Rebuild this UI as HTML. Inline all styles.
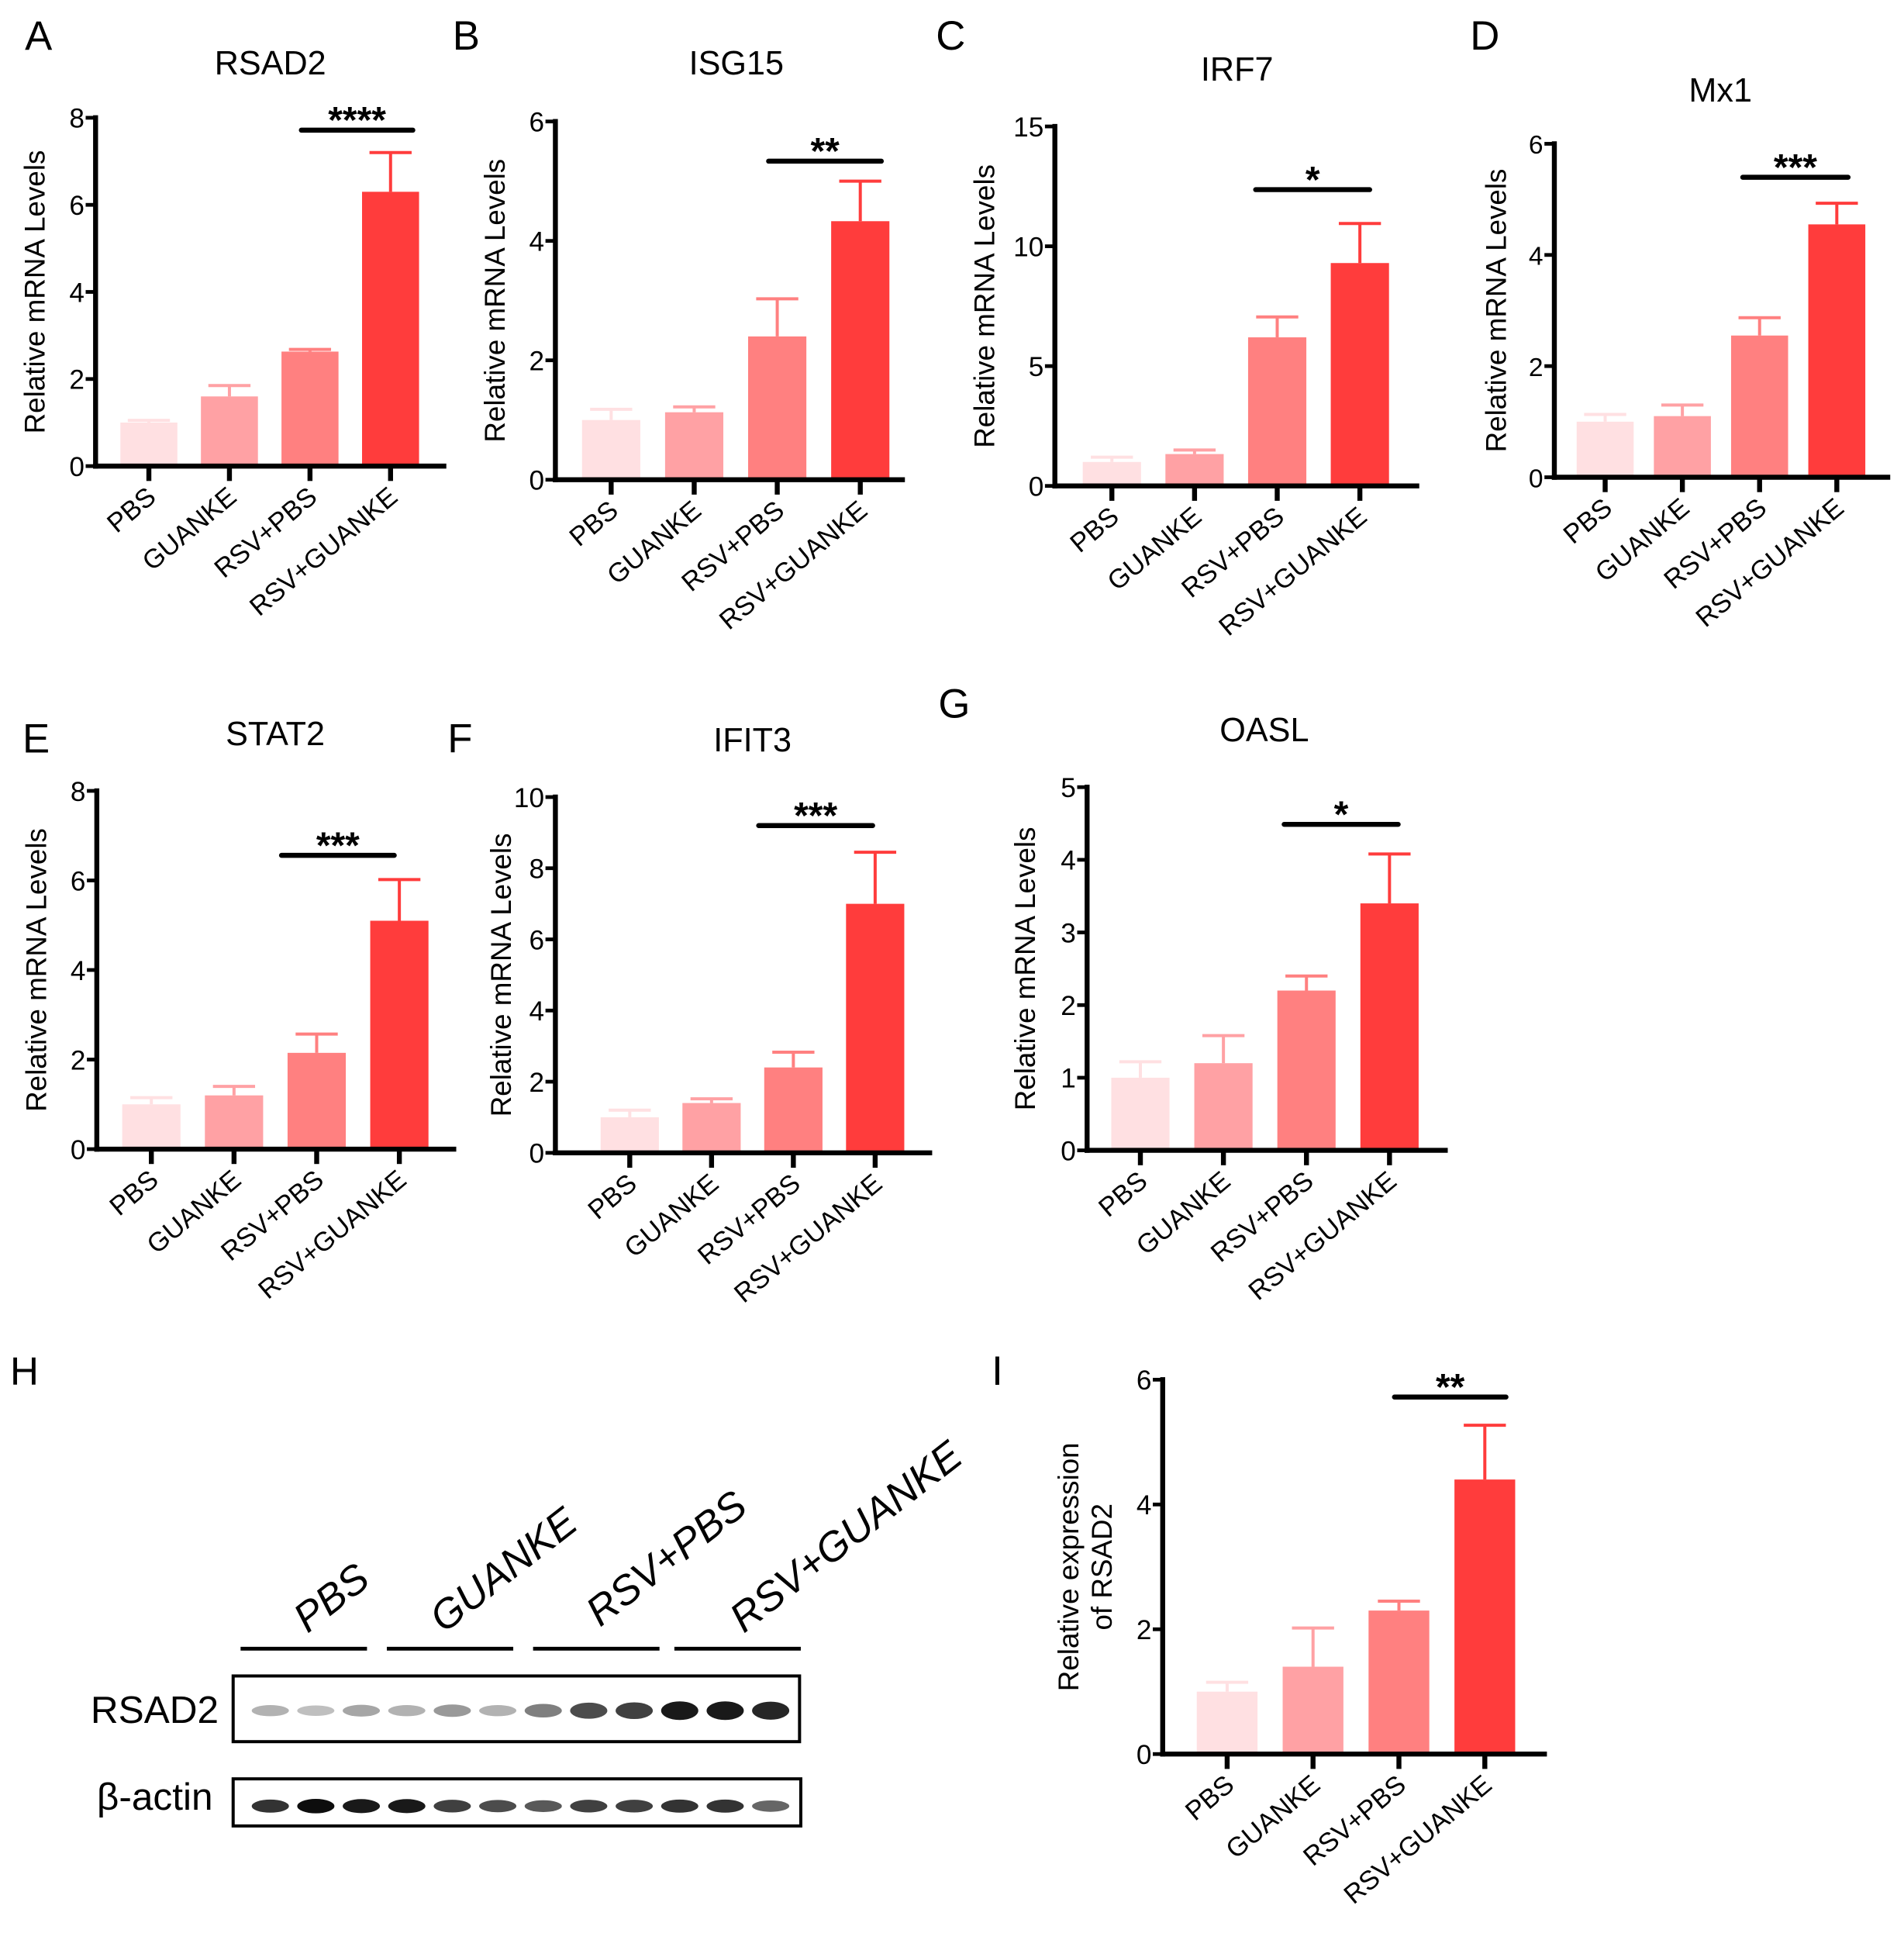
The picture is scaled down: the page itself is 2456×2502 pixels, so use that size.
<!DOCTYPE html>
<html><head><meta charset="utf-8"><style>
html,body{margin:0;padding:0;background:#fff}
svg{display:block}
text{font-family:"Liberation Sans",Arial,sans-serif;fill:#000}
</style></head><body>
<svg id="fig" width="2456" height="2502" viewBox="0 0 1536 1565" xmlns="http://www.w3.org/2000/svg">
<rect width="1536" height="1565" fill="#fff"/>
<g id="charts"></g>
<g id="blot">
  <text x="8" y="1117" font-size="32">H</text>
  <g font-style="italic" font-size="33">
    <text transform="translate(248,1318) rotate(-38)">PBS</text>
    <text transform="translate(358,1318) rotate(-38)">GUANKE</text>
    <text transform="translate(484,1313) rotate(-38)">RSV+PBS</text>
    <text transform="translate(600,1318) rotate(-38)">RSV+GUANKE</text>
  </g>
  <g stroke="#000" stroke-width="3">
    <line x1="194" y1="1330" x2="296" y2="1330"/>
    <line x1="312" y1="1330" x2="414" y2="1330"/>
    <line x1="430" y1="1330" x2="532" y2="1330"/>
    <line x1="544" y1="1330" x2="646" y2="1330"/>
  </g>
  <text x="73" y="1390" font-size="31">RSAD2</text>
  <text x="78" y="1460" font-size="31">β-actin</text>
  <g id="bands"></g>
  <rect x="188" y="1352" width="457" height="53" fill="none" stroke="#000" stroke-width="2.5"/>
  <rect x="188" y="1435" width="458" height="38" fill="none" stroke="#000" stroke-width="2.5"/>
</g>
</svg>
<script>
const categories = ["PBS","GUANKE","RSV+PBS","RSV+GUANKE"];
const colors = ["#FFE0E2","#FFA1A4","#FF8080","#FF3C3C"];
const rsad2Means = [1.0,1.6,2.63,6.3];   const rsad2Err = [1.05,1.85,2.68,7.2];   const rsad2Ticks = [0,2,4,6,8];
const isg15Means = [1.0,1.13,2.4,4.33];  const isg15Err = [1.18,1.22,3.03,5.0];   const isg15Ticks = [0,2,4,6];
const irf7Means = [1.0,1.33,6.2,9.3];    const irf7Err = [1.2,1.5,7.05,10.95];    const irf7Ticks = [0,5,10,15];
const mx1Means = [1.0,1.1,2.55,4.55];    const mx1Err = [1.13,1.3,2.87,4.93];     const mx1Ticks = [0,2,4,6];
const stat2Means = [1.0,1.2,2.15,5.1];   const stat2Err = [1.15,1.4,2.57,6.02];   const stat2Ticks = [0,2,4,6,8];
const ifit3Means = [1.0,1.4,2.4,7.0];    const ifit3Err = [1.2,1.52,2.83,8.45];   const ifit3Ticks = [0,2,4,6,8,10];
const oaslMeans = [1.0,1.2,2.2,3.4];     const oaslErr = [1.22,1.58,2.4,4.08];    const oaslTicks = [0,1,2,3,4,5];
const protMeans = [1.0,1.4,2.3,4.4];     const protErr = [1.15,2.02,2.45,5.27];   const protTicks = [0,2,4,6];
const rsad2BandIntensity = [0.3,0.25,0.35,0.3,0.4,0.3,0.5,0.7,0.75,0.9,0.9,0.85];
const actinBandIntensity = [0.8,0.95,0.9,0.9,0.75,0.7,0.65,0.75,0.75,0.8,0.8,0.6];

const NS="http://www.w3.org/2000/svg";
function mk(tag,attrs,parent){const e=document.createElementNS(NS,tag);for(const k in attrs)e.setAttribute(k,attrs[k]);parent.appendChild(e);return e;}

const panels = [
 {id:"a",letter:"A",lx:20,ly:40,title:"RSAD2",tx:218,ty:60,ax:77,y0:376,yTop:95,xEnd:360,c0:120,dx:65,bw:46,means:rsad2Means,err:rsad2Err,ticks:rsad2Ticks,sig:"****",sx1:243,sx2:333,sy:105,ylab:"Relative mRNA Levels",ylx:36},
 {id:"b",letter:"B",lx:365,ly:40,title:"ISG15",tx:594,ty:60,ax:448,y0:387,yTop:98,xEnd:730,c0:493,dx:67,bw:47,means:isg15Means,err:isg15Err,ticks:isg15Ticks,sig:"**",sx1:620,sx2:711,sy:130,ylab:"Relative mRNA Levels",ylx:407},
 {id:"c",letter:"C",lx:755,ly:40,title:"IRF7",tx:998,ty:65,ax:851,y0:392,yTop:102,xEnd:1145,c0:897,dx:66.7,bw:47,means:irf7Means,err:irf7Err,ticks:irf7Ticks,sig:"*",sx1:1013,sx2:1105,sy:153,ylab:"Relative mRNA Levels",ylx:802},
 {id:"d",letter:"D",lx:1186,ly:40,title:"Mx1",tx:1388,ty:82,ax:1254,y0:385,yTop:116,xEnd:1525,c0:1295,dx:62.3,bw:46,means:mx1Means,err:mx1Err,ticks:mx1Ticks,sig:"***",sx1:1406,sx2:1491,sy:143,ylab:"Relative mRNA Levels",ylx:1215,yfs:21},
 {id:"e",letter:"E",lx:18,ly:607,title:"STAT2",tx:222,ty:601,ax:78,y0:927,yTop:638,xEnd:368,c0:122,dx:66.7,bw:47,means:stat2Means,err:stat2Err,ticks:stat2Ticks,sig:"***",sx1:227,sx2:318,sy:690,ylab:"Relative mRNA Levels",ylx:37},
 {id:"f",letter:"F",lx:361,ly:607,title:"IFIT3",tx:607,ty:606,ax:448,y0:930,yTop:643,xEnd:752,c0:508,dx:66,bw:47,means:ifit3Means,err:ifit3Err,ticks:ifit3Ticks,sig:"***",sx1:612,sx2:704,sy:666,ylab:"Relative mRNA Levels",ylx:412},
 {id:"g",letter:"G",lx:757,ly:579,title:"OASL",tx:1020,ty:598,ax:877,y0:928,yTop:635,xEnd:1168,c0:920,dx:67,bw:47,means:oaslMeans,err:oaslErr,ticks:oaslTicks,sig:"*",sx1:1036,sx2:1128,sy:665,ylab:"Relative mRNA Levels",ylx:835},
 {id:"i",letter:"I",lx:800,ly:1117,title:"",tx:0,ty:0,ax:938,y0:1415,yTop:1113,xEnd:1248,c0:990,dx:69.3,bw:49,means:protMeans,err:protErr,ticks:protTicks,sig:"**",sx1:1125,sx2:1215,sy:1127,ylab:"",ylx:0}
];
const charts=document.getElementById('charts');
panels.forEach(p=>{
  const g=mk('g',{},charts);
  
  
  const maxT=p.ticks[p.ticks.length-1];
  const y=v=>p.y0-(v/maxT)*(p.y0-p.yTop);
  const x=i=>p.c0+i*p.dx;
  const L=mk('text',{x:p.lx,y:p.ly,'font-size':33},g); L.textContent=p.letter;
  
  
  if(p.title){const t=mk('text',{x:p.tx,y:p.ty,'font-size':27,'text-anchor':'middle'},g);t.textContent=p.title;
    
    }
  p.means.forEach((m,i)=>{
    const eb=mk('line',{x1:x(i),x2:x(i),y1:y(p.err[i]),y2:y(m),stroke:colors[i],'stroke-width':2.5},g);
    
    
    const cap=mk('line',{x1:x(i)-17,x2:x(i)+17,y1:y(p.err[i]),y2:y(p.err[i]),stroke:colors[i],'stroke-width':2.5},g);
    
    
    const r=mk('rect',{x:x(i)-p.bw/2,y:y(m),width:p.bw,height:p.y0-y(m),fill:colors[i]},g);
    
    
  });
  const ya=mk('line',{x1:p.ax,x2:p.ax,y1:p.yTop-2,y2:p.y0+2,stroke:'#000','stroke-width':4},g);
  
  
  const xa=mk('line',{x1:p.ax-2,x2:p.xEnd,y1:p.y0,y2:p.y0,stroke:'#000','stroke-width':4},g);
  
  
  p.ticks.forEach(t=>{
    mk('line',{x1:p.ax-8,x2:p.ax,y1:y(t),y2:y(t),stroke:'#000','stroke-width':3},g);
    const tl=mk('text',{x:p.ax-9,y:y(t)+8,'font-size':p.yfs||22,'text-anchor':'end'},g);tl.textContent=t;
    
    
  });
  categories.forEach((c,i)=>{
    mk('line',{x1:x(i),x2:x(i),y1:p.y0,y2:p.y0+12,stroke:'#000','stroke-width':4},g);
    const cl=mk('text',{transform:`translate(${x(i)+7},${p.y0+27}) rotate(-40)`,'font-size':21.5,'text-anchor':'end'},g);cl.textContent=c;
    
    
  });
  const sl=mk('line',{x1:p.sx1,x2:p.sx2,y1:p.sy,y2:p.sy,stroke:'#000','stroke-width':4,'stroke-linecap':'round'},g);
  
  
  const st=mk('text',{x:(p.sx1+p.sx2)/2,y:p.sy+2,'font-size':30,'font-weight':'bold','text-anchor':'middle'},g);st.textContent=p.sig;
  
  
  const cy=(p.y0+p.yTop)/2;
  if(p.ylab){const yl=mk('text',{transform:`translate(${p.ylx},${cy}) rotate(-90)`,'font-size':23,'text-anchor':'middle'},g);yl.textContent=p.ylab;
    
    }
  else{
    const y1=mk('text',{transform:`translate(870,${cy}) rotate(-90)`,'font-size':23,'text-anchor':'middle'},g);y1.textContent='Relative expression';
    
    
    const y2=mk('text',{transform:`translate(897,${cy}) rotate(-90)`,'font-size':23,'text-anchor':'middle'},g);y2.textContent='of RSAD2';
    
    
  }
});
const bands=document.getElementById('bands');
const laneX=i=>218+i*36.7;
rsad2BandIntensity.forEach((v,i)=>{
  const e=mk('ellipse',{cx:laneX(i),cy:1380,rx:15,ry:3+v*5,fill:'#000','fill-opacity':v},bands);
  
  
});
actinBandIntensity.forEach((v,i)=>{
  const e=mk('ellipse',{cx:laneX(i),cy:1457,rx:15,ry:2.5+v*3.5,fill:'#000','fill-opacity':v},bands);
  
  
});
</script>
</body></html>
